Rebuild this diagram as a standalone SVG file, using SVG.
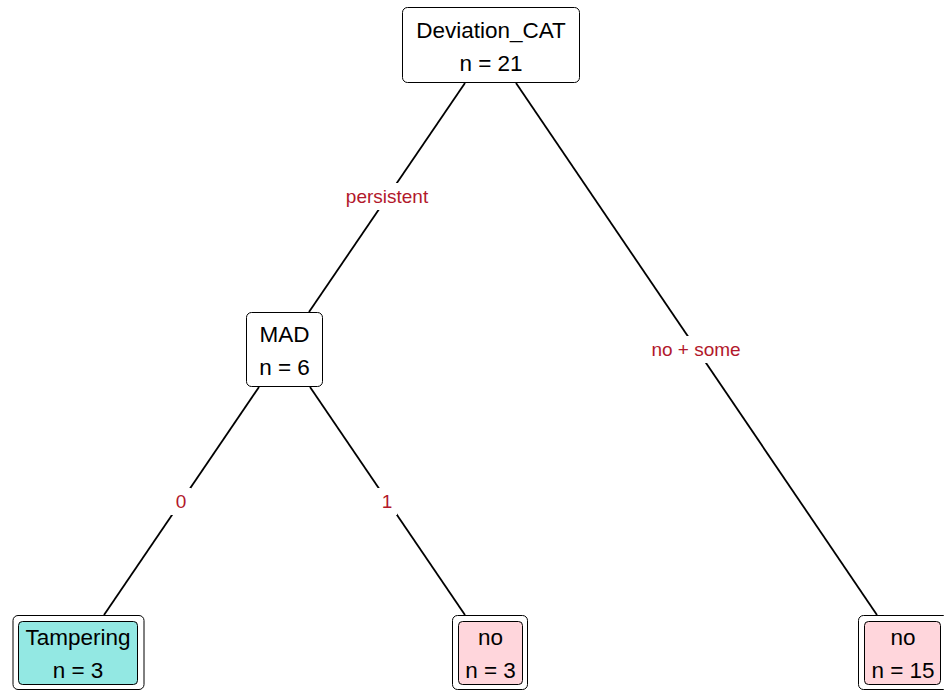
<svg xmlns="http://www.w3.org/2000/svg" width="944" height="691" viewBox="0 0 944 691">
<style>
.box{fill:#fff;stroke:#000;stroke-width:1}
.t{font-family:"Liberation Sans",Arial,sans-serif;font-size:22.5px;text-anchor:middle;fill:#000}
.lbl{font-family:"Liberation Sans",Arial,sans-serif;font-size:19px;text-anchor:middle;fill:#B2182B}
.edge{stroke:#000;stroke-width:1.8;fill:none}
.lb{fill:#fff}
.cyan{fill:#93E8E3;stroke:#000;stroke-width:1}
.pink{fill:#FFD6DC;stroke:#000;stroke-width:1}
</style>
<rect width="944" height="691" fill="#fff"/>
<g id="connectors">
<line class="edge" x1="465" y1="83" x2="309" y2="312"/>
<line class="edge" x1="516" y1="83" x2="877" y2="615"/>
<line class="edge" x1="259" y1="387" x2="104" y2="615"/>
<line class="edge" x1="310" y1="387" x2="465" y2="615"/>
<rect class="lb" x="341" y="183" width="92" height="27"/>
<text class="lbl" x="387" y="203">persistent</text>
<rect class="lb" x="647" y="336" width="100" height="27"/>
<text class="lbl" x="696" y="356">no + some</text>
<rect class="lb" x="171" y="488" width="20" height="27"/>
<text class="lbl" x="181" y="508">0</text>
<rect class="lb" x="377" y="488" width="20" height="27"/>
<text class="lbl" x="387" y="508">1</text>
</g>
<g id="node-root">
<rect class="box" x="402.5" y="7.5" width="177" height="75" rx="5"/>
<text class="t" x="491" y="38">Deviation_CAT</text>
<text class="t" x="491" y="71">n = 21</text>
</g>
<g id="node-mad">
<rect class="box" x="246.5" y="312.5" width="76" height="74" rx="5"/>
<text class="t" x="284.5" y="342">MAD</text>
<text class="t" x="284.5" y="375">n = 6</text>
</g>
<g id="node-tampering">
<rect class="box" x="13" y="615.5" width="131" height="74" rx="5"/>
<rect class="cyan" x="18.5" y="621.5" width="119" height="63" rx="4"/>
<text class="t" x="78" y="645">Tampering</text>
<text class="t" x="78" y="678">n = 3</text>
</g>
<g id="node-no3">
<rect class="box" x="452.5" y="615.5" width="75" height="74" rx="5"/>
<rect class="pink" x="458.5" y="621.5" width="64" height="63" rx="4"/>
<text class="t" x="490.5" y="645">no</text>
<text class="t" x="490.5" y="678">n = 3</text>
</g>
<g id="node-no15">
<rect class="box" x="858.5" y="615.5" width="90" height="74" rx="5"/>
<rect class="pink" x="864.5" y="621.5" width="76" height="63" rx="4"/>
<text class="t" x="903" y="645">no</text>
<text class="t" x="903" y="678">n = 15</text>
</g>
</svg>
